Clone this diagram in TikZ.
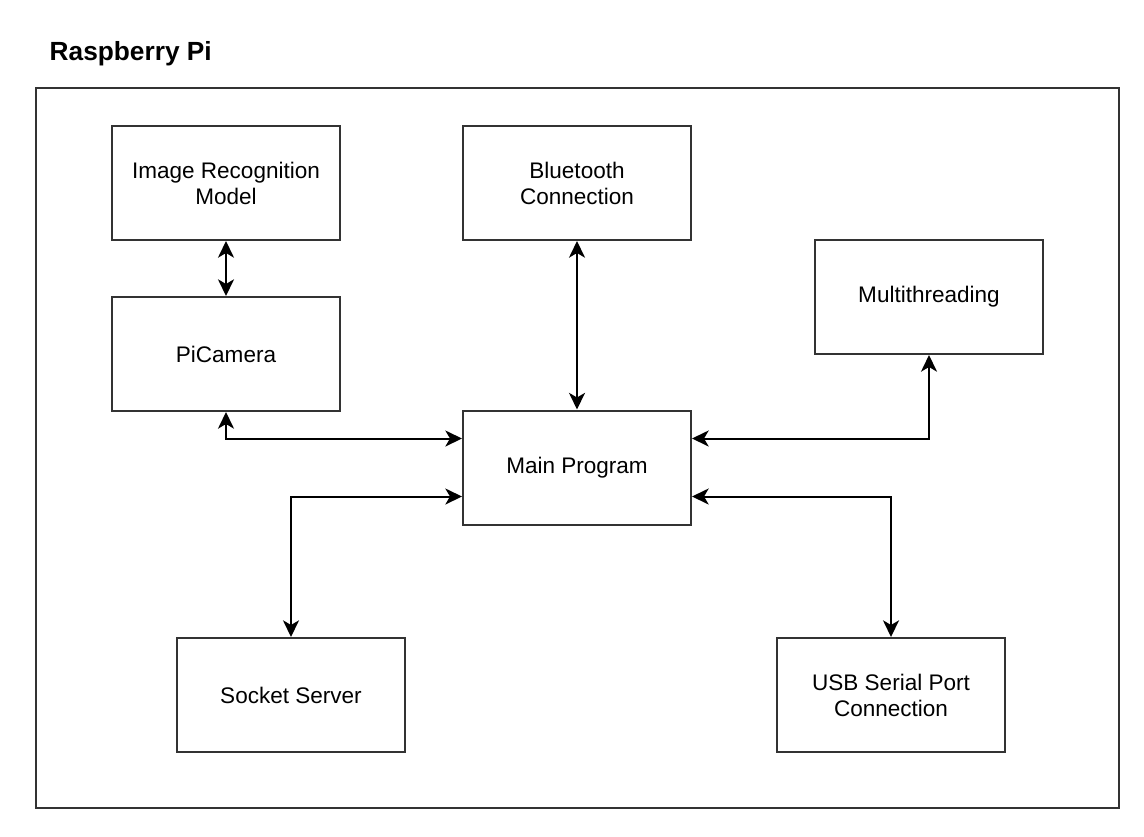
\documentclass[tikz,border=0pt]{standalone}
\usepackage{fontspec}
\setmainfont{Liberation Sans}
\usepackage{tikz}
\usetikzlibrary{arrows.meta}
\usetikzlibrary{calc}
\tikzset{>={Stealth[length=12.5pt,width=12pt,inset=3.5pt]}}
\definecolor{boxline}{HTML}{333333}

\begin{document}
\begin{tikzpicture}[x=0.75pt, y=-0.75pt,
    block/.style={draw=boxline, line width=1.5pt, minimum width=171pt, minimum height=85.5pt,
      align=center, inner sep=0pt, font=\fontsize{16.9}{19.5}\selectfont},
    link/.style={<->, line width=1.5pt}]
      \useasboundingbox (0,0) rectangle (1144,836);
      % title and frame
      \node[anchor=base west, font=\fontsize{19.7}{22}\selectfont\bfseries] (title) at (45,60) {Raspberry Pi};
      \draw[boxline, line width=1.5pt] (36,88) rectangle (1119,808);
      % blocks
      \node[block] (irm) at (226,183) {Image Recognition\\Model};
      \node[block] (bt) at (577,183) {Bluetooth\\Connection};
      \node[block] (multi) at (929,297) {Multithreading};
      \node[block] (cam) at (226,354) {PiCamera};
      \node[block] (main) at (577,467.5) {Main Program};
      \node[block] (sock) at (291,695) {Socket Server};
      \node[block] (usb) at (891,695) {USB Serial Port\\Connection};
      % links
      \draw[link] (irm) -- (cam);
      \draw[link] (bt) -- (main);
      \draw[link] (cam.south) |- ($(main.north west)!.25!(main.south west)$);
      \draw[link] (multi.south) |- ($(main.north east)!.25!(main.south east)$);
      \draw[link] ($(main.north west)!.75!(main.south west)$) -| (sock.north);
      \draw[link] ($(main.north east)!.75!(main.south east)$) -| (usb.north);
    \end{tikzpicture}
\end{document}
